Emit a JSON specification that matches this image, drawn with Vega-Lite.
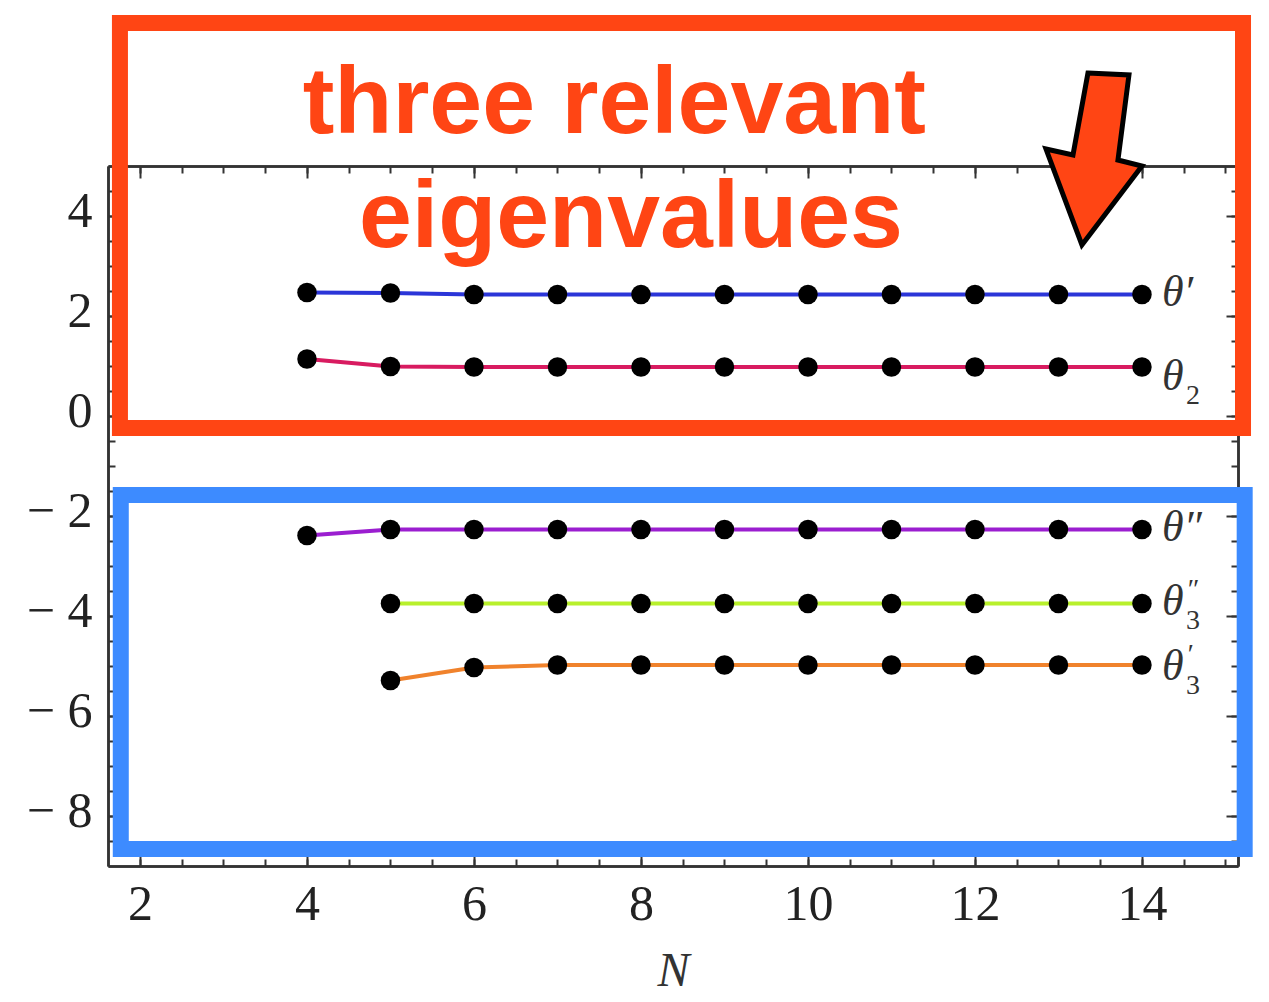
{
  "$schema": "https://vega.github.io/schema/vega-lite/v6.json",
  "width": 1130,
  "height": 700,
  "autosize": {"type": "none"},
  "padding": {"left": 108, "top": 166, "right": 31, "bottom": 136},
  "background": "white",
  "config": {
    "view": {"stroke": null},
    "axis": {
      "grid": false,
      "domainColor": "#333333",
      "domainWidth": 2.5,
      "tickColor": "#333333",
      "tickWidth": 2,
      "labelFont": "Liberation Serif",
      "labelFontSize": 50,
      "labelColor": "#222222",
      "labelOverlap": false,
      "titleFont": "Liberation Serif",
      "titleFontSize": 48,
      "titleFontStyle": "italic",
      "titleFontWeight": "normal",
      "titleColor": "#333333"
    }
  },
  "datasets": {
    "eigen": [
      {"series": "θ′", "N": 4, "v": 2.47}, {"series": "θ′", "N": 5, "v": 2.46}, {"series": "θ′", "N": 6, "v": 2.43},
      {"series": "θ′", "N": 7, "v": 2.43}, {"series": "θ′", "N": 8, "v": 2.43}, {"series": "θ′", "N": 9, "v": 2.43},
      {"series": "θ′", "N": 10, "v": 2.43}, {"series": "θ′", "N": 11, "v": 2.43}, {"series": "θ′", "N": 12, "v": 2.43},
      {"series": "θ′", "N": 13, "v": 2.43}, {"series": "θ′", "N": 14, "v": 2.43},
      {"series": "θ₂", "N": 4, "v": 1.14}, {"series": "θ₂", "N": 5, "v": 0.99}, {"series": "θ₂", "N": 6, "v": 0.98},
      {"series": "θ₂", "N": 7, "v": 0.98}, {"series": "θ₂", "N": 8, "v": 0.98}, {"series": "θ₂", "N": 9, "v": 0.98},
      {"series": "θ₂", "N": 10, "v": 0.98}, {"series": "θ₂", "N": 11, "v": 0.98}, {"series": "θ₂", "N": 12, "v": 0.98},
      {"series": "θ₂", "N": 13, "v": 0.98}, {"series": "θ₂", "N": 14, "v": 0.98},
      {"series": "θ″", "N": 4, "v": -2.39}, {"series": "θ″", "N": 5, "v": -2.27}, {"series": "θ″", "N": 6, "v": -2.27},
      {"series": "θ″", "N": 7, "v": -2.27}, {"series": "θ″", "N": 8, "v": -2.27}, {"series": "θ″", "N": 9, "v": -2.27},
      {"series": "θ″", "N": 10, "v": -2.27}, {"series": "θ″", "N": 11, "v": -2.27}, {"series": "θ″", "N": 12, "v": -2.27},
      {"series": "θ″", "N": 13, "v": -2.27}, {"series": "θ″", "N": 14, "v": -2.27},
      {"series": "θ″₃", "N": 5, "v": -3.75}, {"series": "θ″₃", "N": 6, "v": -3.75}, {"series": "θ″₃", "N": 7, "v": -3.75},
      {"series": "θ″₃", "N": 8, "v": -3.75}, {"series": "θ″₃", "N": 9, "v": -3.75}, {"series": "θ″₃", "N": 10, "v": -3.75},
      {"series": "θ″₃", "N": 11, "v": -3.75}, {"series": "θ″₃", "N": 12, "v": -3.75}, {"series": "θ″₃", "N": 13, "v": -3.75},
      {"series": "θ″₃", "N": 14, "v": -3.75},
      {"series": "θ′₃", "N": 5, "v": -5.29}, {"series": "θ′₃", "N": 6, "v": -5.03}, {"series": "θ′₃", "N": 7, "v": -4.98},
      {"series": "θ′₃", "N": 8, "v": -4.98}, {"series": "θ′₃", "N": 9, "v": -4.98}, {"series": "θ′₃", "N": 10, "v": -4.98},
      {"series": "θ′₃", "N": 11, "v": -4.98}, {"series": "θ′₃", "N": 12, "v": -4.98}, {"series": "θ′₃", "N": 13, "v": -4.98},
      {"series": "θ′₃", "N": 14, "v": -4.98}
    ],
    "tags": [
      {"series": "θ′", "main": "θ′", "sup": "", "sub": "", "N": 14, "lv": 2.46},
      {"series": "θ₂", "main": "θ", "sup": "", "sub": "2", "N": 14, "lv": 0.78},
      {"series": "θ″", "main": "θ″", "sup": "", "sub": "", "N": 14, "lv": -2.24},
      {"series": "θ″₃", "main": "θ", "sup": "″", "sub": "3", "N": 14, "lv": -3.72},
      {"series": "θ′₃", "main": "θ", "sup": "′", "sub": "3", "N": 14, "lv": -5.02}
    ],
    "boxes": [
      {"box": "relevant", "x0": 1.76, "x1": 15.21, "y0": -0.24, "y1": 7.86},
      {"box": "irrelevant", "x0": 1.77, "x1": 15.23, "y0": -8.66, "y1": -1.58}
    ],
    "notes": [
      {"text": "three relevant", "N": 7.68, "v": 5.66},
      {"text": "eigenvalues", "N": 7.88, "v": 3.38}
    ],
    "pointer": [
      {"N": 13.425, "v": 5.14}
    ]
  },
  "layer": [
    {
      "data": {"name": "eigen"},
      "mark": {"type": "line", "strokeWidth": 4},
      "encoding": {
        "x": {"field": "N", "type": "quantitative",
              "scale": {"domain": [1.617, 15.15], "nice": false, "zero": false},
              "axis": {"orient": "bottom", "values": [2, 4, 6, 8, 10, 12, 14], "tickSize": -12, "labelPadding": 25, "title": "N", "titlePadding": 18}},
        "y": {"field": "v", "type": "quantitative",
              "scale": {"domain": [-9, 5], "nice": false, "zero": false},
              "axis": {"orient": "left", "values": [-8, -6, -4, -2, 0, 2, 4], "tickSize": -12, "labelPadding": 28, "labelOffset": -5,
                       "labelExpr": "replace(datum.label, '−', '− ')", "title": null}},
        "color": {"field": "series", "type": "nominal",
                  "scale": {"domain": ["θ′", "θ₂", "θ″", "θ″₃", "θ′₃"],
                            "range": ["#2b35d8", "#d81b60", "#9b1ed0", "#b8f02c", "#f0822c"]},
                  "legend": null},
        "order": {"field": "N", "type": "quantitative"}
      }
    },
    {
      "data": {"name": "eigen"},
      "mark": {"type": "point", "filled": true, "color": "#000000", "opacity": 1, "size": 380},
      "encoding": {
        "x": {"field": "N", "type": "quantitative",
              "scale": {"domain": [1.617, 15.15], "nice": false, "zero": false},
              "axis": {"orient": "top", "values": [2, 4, 6, 8, 10, 12, 14], "tickSize": -12, "labels": false, "title": null}},
        "y": {"field": "v", "type": "quantitative",
              "scale": {"domain": [-9, 5], "nice": false, "zero": false},
              "axis": {"orient": "right", "values": [-8, -6, -4, -2, 0, 2, 4], "tickSize": -12, "labels": false, "title": null}}
      }
    },
    {
      "data": {"name": "tags"},
      "mark": {"type": "text", "align": "left", "baseline": "middle", "dx": 20,
               "font": "Liberation Serif", "fontStyle": "italic", "fontSize": 44, "color": "#333333"},
      "encoding": {
        "x": {"field": "N", "type": "quantitative",
              "scale": {"domain": [1.617, 15.15], "nice": false, "zero": false},
              "axis": {"orient": "bottom", "values": [2, 2.5, 3, 3.5, 4, 4.5, 5, 5.5, 6, 6.5, 7, 7.5, 8, 8.5, 9, 9.5, 10, 10.5, 11, 11.5, 12, 12.5, 13, 13.5, 14, 14.5, 15],
                       "tickSize": -7, "labels": false, "title": null}},
        "y": {"field": "lv", "type": "quantitative",
              "scale": {"domain": [-9, 5], "nice": false, "zero": false},
              "axis": {"orient": "left", "values": [-8.5, -8, -7.5, -7, -6.5, -6, -5.5, -5, -4.5, -4, -3.5, -3, -2.5, -2, -1.5, -1, -0.5, 0, 0.5, 1, 1.5, 2, 2.5, 3, 3.5, 4, 4.5],
                       "tickSize": -7, "labels": false, "title": null}},
        "text": {"field": "main"}
      }
    },
    {
      "data": {"name": "tags"},
      "mark": {"type": "text", "align": "left", "baseline": "middle", "dx": 44, "dy": 19,
               "font": "Liberation Serif", "fontSize": 28, "color": "#333333"},
      "encoding": {
        "x": {"field": "N", "type": "quantitative",
              "scale": {"domain": [1.617, 15.15], "nice": false, "zero": false},
              "axis": {"orient": "top", "values": [2, 2.5, 3, 3.5, 4, 4.5, 5, 5.5, 6, 6.5, 7, 7.5, 8, 8.5, 9, 9.5, 10, 10.5, 11, 11.5, 12, 12.5, 13, 13.5, 14, 14.5, 15],
                       "tickSize": -7, "labels": false, "title": null}},
        "y": {"field": "lv", "type": "quantitative",
              "scale": {"domain": [-9, 5], "nice": false, "zero": false},
              "axis": {"orient": "right", "values": [-8.5, -8, -7.5, -7, -6.5, -6, -5.5, -5, -4.5, -4, -3.5, -3, -2.5, -2, -1.5, -1, -0.5, 0, 0.5, 1, 1.5, 2, 2.5, 3, 3.5, 4, 4.5],
                       "tickSize": -7, "labels": false, "title": null}},
        "text": {"field": "sub"}
      }
    },
    {
      "data": {"name": "tags"},
      "mark": {"type": "text", "align": "left", "baseline": "middle", "dx": 44, "dy": -12,
               "font": "Liberation Serif", "fontStyle": "italic", "fontSize": 28, "color": "#333333"},
      "encoding": {
        "x": {"field": "N", "type": "quantitative", "scale": {"domain": [1.617, 15.15], "nice": false, "zero": false}, "axis": null},
        "y": {"field": "lv", "type": "quantitative", "scale": {"domain": [-9, 5], "nice": false, "zero": false}, "axis": null},
        "text": {"field": "sup"}
      }
    },
    {
      "data": {"name": "boxes"},
      "mark": {"type": "rect", "filled": false, "strokeWidth": 16, "strokeJoin": "miter"},
      "encoding": {
        "x": {"field": "x0", "type": "quantitative", "scale": {"domain": [1.617, 15.15], "nice": false, "zero": false}, "axis": null},
        "x2": {"field": "x1"},
        "y": {"field": "y0", "type": "quantitative", "scale": {"domain": [-9, 5], "nice": false, "zero": false}, "axis": null},
        "y2": {"field": "y1"},
        "stroke": {"field": "box", "type": "nominal",
                   "scale": {"domain": ["relevant", "irrelevant"], "range": ["#ff4514", "#3d8bff"]},
                   "legend": null}
      }
    },
    {
      "data": {"name": "notes"},
      "mark": {"type": "text", "align": "center", "baseline": "alphabetic",
               "font": "Liberation Sans", "fontWeight": "bold", "fontSize": 95, "color": "#ff4514"},
      "encoding": {
        "x": {"field": "N", "type": "quantitative", "scale": {"domain": [1.617, 15.15], "nice": false, "zero": false}, "axis": null},
        "y": {"field": "v", "type": "quantitative", "scale": {"domain": [-9, 5], "nice": false, "zero": false}, "axis": null},
        "text": {"field": "text"}
      }
    },
    {
      "data": {"name": "pointer"},
      "mark": {"type": "point", "filled": true, "opacity": 1, "fill": "#ff4514", "stroke": "#000000", "strokeWidth": 5, "strokeJoin": "miter",
               "size": 29584,
               "shape": "M -0.07 -1 L 0.407 -0.977 L 0.279 0.012 L 0.558 0.081 L -0.14 1 L -0.558 -0.116 L -0.244 -0.047 Z"},
      "encoding": {
        "x": {"field": "N", "type": "quantitative", "scale": {"domain": [1.617, 15.15], "nice": false, "zero": false}, "axis": null},
        "y": {"field": "v", "type": "quantitative", "scale": {"domain": [-9, 5], "nice": false, "zero": false}, "axis": null}
      }
    }
  ],
  "resolve": {"axis": {"x": "independent", "y": "independent"}}
}
